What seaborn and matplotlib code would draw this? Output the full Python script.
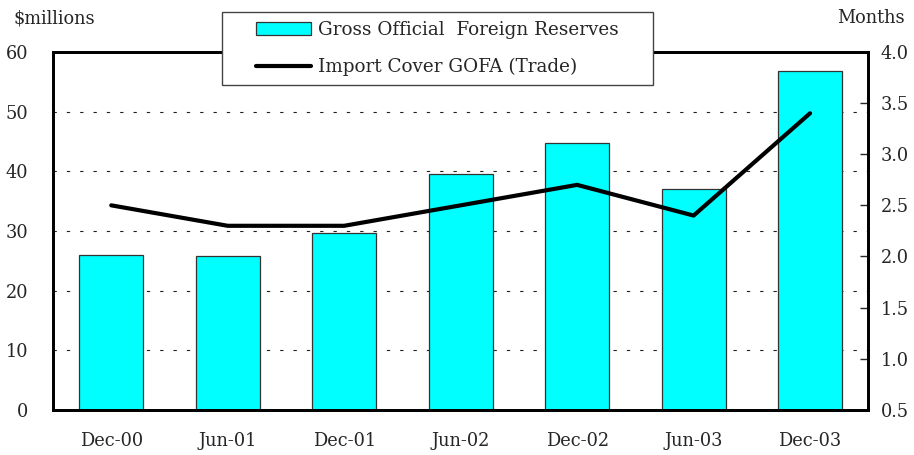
import numpy as np
import pandas as pd
import seaborn as sns
import matplotlib.pyplot as plt
from matplotlib.patches import Rectangle

# data
periods = ['Dec-00', 'Jun-01', 'Dec-01', 'Jun-02', 'Dec-02', 'Jun-03', 'Dec-03']
reserves = [26.0, 25.8, 29.6, 39.5, 44.7, 37.0, 56.8]   # $millions
import_cover = [2.5, 2.3, 2.3, 2.5, 2.7, 2.4, 3.4]      # months

df = pd.DataFrame({'period': periods, 'reserves': reserves, 'cover': import_cover})
df['pos'] = np.arange(len(df))

sns.set_style('white')
plt.rcParams['font.family'] = ['DejaVu Serif']
plt.rcParams['font.size'] = 12.8

fig = plt.figure(figsize=(9.14, 4.55), dpi=100)
ax = fig.add_axes([0.058, 0.099, 0.892, 0.787])

# dashed grid behind the bars
ax.set_axisbelow(True)
for v in [10, 20, 30, 40, 50]:
    ax.axhline(v, color='#222222', lw=0.8, ls=(0, (3, 9)), zorder=0)

sns.barplot(data=df, x='period', y='reserves', color='#00FFFF', saturation=1,
            edgecolor='#333333', linewidth=0.9, width=0.55, ax=ax,
            label='Gross Official  Foreign Reserves')
if ax.get_legend() is not None:
    ax.get_legend().remove()
ax.set_ylim(0, 60)
ax.set_xlim(-0.5, 6.5)
ax.set_yticks(range(0, 61, 10))
ax.set_xlabel('')
ax.set_ylabel('')
ax.tick_params(axis='both', length=0)
ax.tick_params(axis='y', pad=18)
ax.tick_params(axis='x', pad=16)

ax2 = ax.twinx()
sns.lineplot(data=df, x='pos', y='cover', color='black', lw=3, ax=ax2,
             label='Import Cover GOFA (Trade)', legend=False)
ax2.set_ylim(0.5, 4.0)
ax2.set_yticks(np.arange(0.5, 4.01, 0.5))
ax2.set_yticklabels([f'{t:.1f}' for t in np.arange(0.5, 4.01, 0.5)])
ax2.set_ylabel('')
ax2.set_xlabel('')
ax2.tick_params(axis='y', direction='in', length=6, width=1, pad=9)
ax.set_xlim(-0.5, 6.5)

for a in (ax, ax2):
    for s in a.spines.values():
        s.set_color('black')
        s.set_linewidth(2)

fig.text(0.015, 0.96, '\\$millions', ha='left', va='center')
fig.text(0.99, 0.96, 'Months', ha='right', va='center')

# legend box sits over the top of the plot
box = Rectangle((0.243, 0.813), 0.471, 0.161, transform=fig.transFigure,
                facecolor='white', edgecolor='#444444', lw=1, zorder=9)
fig.patches.append(box)

h1, l1 = ax.get_legend_handles_labels()
h2, l2 = ax2.get_legend_handles_labels()
leg = fig.legend(h1 + h2, l1 + l2, loc='center',
                 bbox_to_anchor=(0.4785, 0.8935), frameon=False,
                 handlelength=3.0, handletextpad=0.35, labelspacing=1.05,
                 borderpad=0, fontsize=13.2)
for line in leg.get_lines():
    line.set_solid_capstyle('round')
leg.set_zorder(10)

fig.savefig('out.png', dpi=100)
